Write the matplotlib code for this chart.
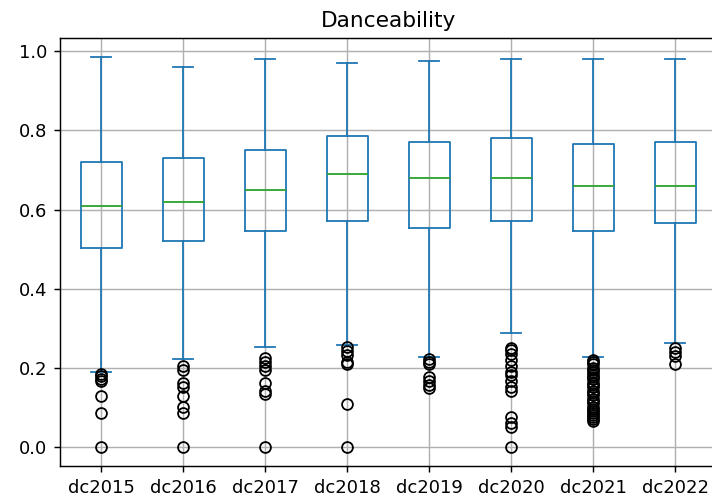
import matplotlib
matplotlib.use("Agg")
import matplotlib.pyplot as plt

years = ['dc2015', 'dc2016', 'dc2017', 'dc2018', 'dc2019', 'dc2020', 'dc2021', 'dc2022']

q1 = [0.503, 0.52, 0.545, 0.572, 0.552, 0.572, 0.545, 0.567]
med = [0.61, 0.62, 0.65, 0.69, 0.68, 0.68, 0.66, 0.66]
q3 = [0.72, 0.73, 0.75, 0.785, 0.77, 0.78, 0.765, 0.77]
whis_lo = [0.19, 0.223, 0.253, 0.258, 0.228, 0.288, 0.228, 0.263]
whis_hi = [0.985, 0.96, 0.98, 0.97, 0.975, 0.98, 0.98, 0.98]

fliers = [
    [0.183, 0.178, 0.172, 0.165, 0.127, 0.086, 0.0],
    [0.205, 0.195, 0.16, 0.15, 0.127, 0.10, 0.086, 0.0],
    [0.225, 0.215, 0.205, 0.195, 0.16, 0.14, 0.133, 0.0],
    [0.252, 0.243, 0.232, 0.215, 0.208, 0.109, 0.0],
    [0.222, 0.215, 0.208, 0.175, 0.165, 0.155, 0.148],
    [0.25, 0.245, 0.235, 0.22, 0.205, 0.19, 0.18, 0.165, 0.15, 0.14,
     0.075, 0.06, 0.05, 0.0],
    [0.22, 0.215, 0.21, 0.2, 0.195, 0.19, 0.18, 0.175, 0.17, 0.16, 0.155,
     0.15, 0.14, 0.135, 0.13, 0.12, 0.115, 0.11, 0.1, 0.095, 0.09, 0.085,
     0.08, 0.075, 0.07, 0.065],
    [0.25, 0.24, 0.23, 0.21],
]

stats = []
for i in range(len(years)):
    stats.append({'label': years[i], 'q1': q1[i], 'med': med[i], 'q3': q3[i],
                  'whislo': whis_lo[i], 'whishi': whis_hi[i], 'fliers': fliers[i]})

dpi = 130
fig = plt.figure(figsize=(712 / dpi, 501 / dpi), dpi=dpi)
ax = fig.add_axes([60 / 712, 1 - 466 / 501, 656 / 712, 428 / 501])

blue = '#1f77b4'
ax.bxp(stats,
       boxprops=dict(color=blue),
       whiskerprops=dict(color=blue),
       capprops=dict(color=blue),
       medianprops=dict(color='#2ca02c'),
       flierprops=dict(marker='o', markerfacecolor='none', markeredgecolor='black'))

ax.set_xlim(0.5, 8.5)
ax.set_ylim(-0.049, 1.034)
ax.grid(True)
ax.set_title('Danceability')

fig.savefig('out.png', dpi=dpi)
